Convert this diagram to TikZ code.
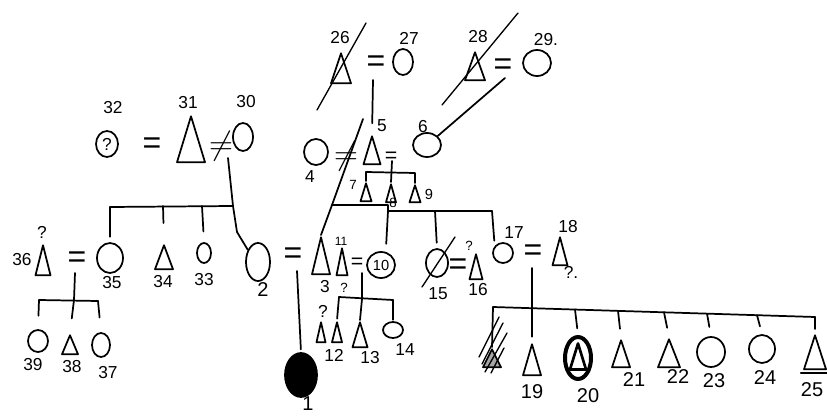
\documentclass[tikz,border=0pt]{standalone}
\usepackage{fontspec}
\setmainfont{Liberation Sans}
\usetikzlibrary{shapes.geometric,calc}
\begin{document}
\begin{tikzpicture}[x=0.75pt,y=-0.75pt, line width=1.3pt, line cap=round, line join=round,
 tri/.style 2 args={draw, isosceles triangle, shape border rotate=90, isosceles triangle stretches, inner sep=0pt, minimum width=#1*0.75pt, minimum height=#2*0.75pt, anchor=apex},
 circ/.style 2 args={draw, ellipse, inner sep=0pt, minimum width=#1*1.5pt, minimum height=#2*1.5pt},
 lab/.style={font=\fontsize{13}{13}\selectfont, inner sep=0pt},
 biglab/.style={font=\fontsize{15}{15}\selectfont, inner sep=0pt},
 eq/.style={font=\fontsize{24}{24}\selectfont, inner sep=0pt},
 seq/.style={font=\fontsize{16}{16}\selectfont, inner sep=0pt},
 slash/.style={line width=1pt}]
\useasboundingbox[fill=white] (0,0) rectangle (827,417);

% ---- generation 0 ----
\node[tri={20}{30}] (t26) at (341,51) {};
\node[eq] (e2627) at (376,64) {=};
\node[circ={10}{13}] (c27) at (403,62) {};
\node[tri={20}{28}] (t28) at (475,50) {};
\node[eq] (e2829) at (503,67) {=};
\node[circ={14}{13}] (c29) at (537,63) {};
\node[lab] (l26) at (340,38) {26};
\node[lab] (l27) at (409,38) {27};
\node[lab] (l28) at (478,37) {28};
\node[lab] (l29) at (546,40) {29.};
\draw[slash] (317,110) -- (366,23);
\draw[slash] (442,105) -- (518,13);

% ---- 32 = 31 != 30 ----
\node[circ={11}{13}, font=\fontsize{13}{13}\selectfont] (c32) at (107,144) {?};
\node[eq] (e3231) at (152,146) {=};
\node[tri={28}{46}] (t31) at (191,114) {};
\node[eq] (n3130) at (221,146) {$\neq$};
\node[circ={10}{14}] (c30) at (243,137) {};
\node[lab] (l32) at (113,108) {32};
\node[lab] (l31) at (188,103) {31};
\node[lab] (l30) at (246,102) {30};

% ---- 4 != 5 = 6 ----
\node[circ={12}{13}] (c4) at (316,152) {};
\node[eq] (n45) at (346,156) {$\neq$};
\node[tri={17}{28}] (t5) at (372,134) {};
\node[seq] (e56) at (391,157) {=};
\node[circ={14}{12}] (c6) at (427,145) {};
\node[lab] (l4) at (310,177) {4};
\node[lab] (l5) at (382,126) {5};
\node[lab] (l6) at (423,127) {6};

\node[tri={11}{18}] (t7) at (366,181) {};
\node[tri={10}{18}] (t8) at (391,182) {};
\node[tri={11}{17}] (t9) at (415,183) {};
\node[lab, font=\fontsize{10}{10}\selectfont] (l7) at (353,185) {7};
\node[lab, font=\fontsize{10}{10}\selectfont] (l8) at (393,203) {8};
\node[lab, font=\fontsize{11}{11}\selectfont] (l9) at (429,194) {9};

% ---- generation 2 ----
\node[circ={13}{15}] (c35) at (110,258) {};
\node[tri={18}{24}] (t34) at (164,243) {};
\node[circ={7}{10}] (c33) at (204,253) {};
\node[circ={12}{19}] (c2) at (258,262) {};
\node[tri={15}{30}] (t36) at (43,243) {};
\node[eq] (e3635) at (77,260) {=};
\node[lab] (l35) at (112,283) {35};
\node[lab] (l34) at (163,282) {34};
\node[lab] (l33) at (204,280) {33};
\node[biglab] (l2) at (263,290) {2};
\node[lab] (l36) at (22,260) {36};
\node[lab] (q36) at (42,232) {?};

\node[eq] (e23) at (293,256) {=};
\node[tri={18}{37}] (t3) at (321,235) {};
\node[tri={11}{27}] (t11) at (342,246) {};
\node[seq] (e1110) at (357,263) {=};
\node[circ={14}{13}, font=\fontsize{11}{11}\selectfont] (c10) at (381,265) {10};
\node[lab] (l3) at (325,287) {3};
\node[lab, font=\fontsize{9}{9}\selectfont] (l11) at (341,241) {11};
\node[lab, font=\fontsize{10}{10}\selectfont] (q11) at (344,288) {?};

\node[circ={11}{14}] (c15) at (437,263) {};
\draw[slash] (422,287) -- (455,237);
\node[eq] (e1516) at (458,267) {=};
\node[tri={13}{25}] (t16) at (476,252) {};
\node[lab] (l15) at (438,294) {15};
\node[lab] (l16) at (478,290) {16};
\node[lab, font=\fontsize{10}{10}\selectfont] (q16) at (469,246) {?};

\node[circ={10}{10}] (c17) at (503,253) {};
\node[eq] (e1718) at (533,253) {=};
\node[tri={15}{28}] (t18) at (560,235) {};
\node[lab] (l17) at (514,233) {17};
\node[lab] (l18) at (568,227) {18};
\node[lab] (q18) at (571,272) {?.};

% ---- generation 3 ----
\node[circ={10}{11}] (c39) at (38,341) {};
\node[tri={16}{19}] (t38) at (70,333) {};
\node[circ={9}{12}] (c37) at (101,345) {};
\node[lab] (l39) at (33,365) {39};
\node[lab] (l38) at (72,367) {38};
\node[lab] (l37) at (108,373) {37};

\node[circ={16}{22}, fill=black] (c1) at (301,375) {};
\node[biglab] (l1) at (308,404) {1};

\node[tri={9}{20}] (t12a) at (321,320) {};
\node[tri={10}{20}] (t12b) at (337,320) {};
\node[tri={15}{25}] (t13) at (360,320) {};
\node[circ={10}{8}] (c14) at (393,330) {};
\node[lab] (l12) at (334,355) {12};
\node[lab] (q12) at (323,311) {?};
\node[lab] (l13) at (370,358) {13};
\node[lab] (l14) at (405,350) {14};

\node[tri={18}{18}, fill=black!35] (th) at (492,347) {};
\draw[line width=1pt] (479,357) -- (499,317) (482,364) -- (503,323) (485,372) -- (507,333) (491,373) -- (504,348);
\node[tri={18}{31}] (t19) at (532,342) {};
\node[circ={13}{21}, line width=3pt] (c20) at (578,358) {};
\node[tri={16}{26}, line width=2pt] (t20) at (578,340) {};
\node[tri={18}{27}] (t21) at (621,338) {};
\node[tri={22}{28}] (t22) at (669,337) {};
\node[circ={14}{15}] (c23) at (711,352) {};
\node[circ={13}{14}] (c24) at (762,349) {};
\node[tri={22}{34}] (t25) at (815,333) {};
\draw ($(t25.left corner)+(-2,3)$) -- ($(t25.right corner)+(2,3)$);
\node[biglab] (l19) at (532,392) {19};
\node[biglab] (l20) at (588,396) {20};
\node[biglab] (l21) at (634,380) {21};
\node[biglab] (l22) at (678,377) {22};
\node[biglab] (l23) at (714,381) {23};
\node[biglab] (l24) at (765,378) {24};
\node[biglab] (l25) at (812,390) {25};

% ---- connectors ----
\coordinate (d2627) at (373,80);
\draw[shorten >=8pt] (d2627) -- (t5.apex);
\coordinate (d2829) at (505,78);
\draw (d2829) -- (c6.40);

\coordinate (x5) at (363,119);
\coordinate (sb1) at (332,205);
\coordinate (sb2) at (388,205);
\coordinate (sb3) at (388,211);
\coordinate (sb15) at (435,211);
\coordinate (sb4) at (492,211);
\draw (x5) -- (sb1) -- (t3.apex);
\draw (sb1) -- (sb2) -- (sb3) -- (sb4);
\draw[shorten >=6pt] (sb3) -- (c10.70);
\draw[shorten >=4pt] (sb15) -- (c15.north);
\draw[shorten >=4pt] (sb4) -- (c17.140);

\coordinate (d56) at (392,161);
\coordinate (k7) at (366,172);
\coordinate (k9) at (415,173);
\draw (d56) -- (t8.apex);
\draw (t7.apex) -- (k7) -- (k9) -- (t9.apex);

\coordinate (d3130) at (228,158);
\coordinate (s30) at (233,206);
\coordinate (k2) at (237,232);
\coordinate (s35) at (110,207);
\coordinate (s34) at (163,206);
\coordinate (s33) at (202,206);
\draw (d3130) -- (s30) -- (k2) -- (c2.130);
\draw (s30) -- (s35);
\draw[shorten >=4pt] (s35) -- (c35.north);
\draw[shorten >=15pt] (s34) -- (t34.apex);
\draw[shorten >=8pt] (s33) -- (c33.north);

\coordinate (d3635) at (75,273);
\coordinate (b3635) at (74,300);
\coordinate (b39) at (39,300);
\coordinate (b37) at (98,301);
\draw (d3635) -- (b3635);
\draw (b39) -- (b37);
\draw[shorten >=10pt] (b39) -- (c39.north);
\draw[shorten >=11pt] (b3635) -- (t38.apex);
\draw[shorten >=11pt] (b37) -- (c37.north);

\coordinate (d23) at (297,271);
\draw[shorten >=2pt] (d23) -- (c1.north);

\coordinate (d1110) at (362,273);
\coordinate (b1110) at (362,299);
\coordinate (b12) at (339,297);
\coordinate (b14) at (393,300);
\draw (d1110) -- (b1110) -- (t13.apex);
\draw (b12) -- (b14);
\draw[shorten >=1pt] (b12) -- (t12b.apex);
\draw[shorten >=1pt] (b14) -- (c14.north);

\coordinate (d1718) at (532,268);
\draw[shorten >=4pt] (d1718) -- (t19.apex);
\coordinate (bL) at (493,307);
\coordinate (bR) at (815,317);
\draw (bL) -- (bR);
\draw (bL) -- (th.apex);
\coordinate (k20) at (575,309.5);
\coordinate (k21) at (618,310.9);
\coordinate (k22) at (664,312.3);
\coordinate (k23) at (707,313.6);
\coordinate (k24) at (757,315.1);
\draw[shorten >=5pt] (k20) -- (c20.north);
\draw[shorten >=7pt] (k21) -- (t21.apex);
\draw[shorten >=7pt] (k22) -- (t22.apex);
\draw[shorten >=7pt] (k23) -- (c23.north);
\draw[shorten >=6pt] (k24) -- (c24.north);
\draw[shorten >=3pt] (bR) -- (t25.apex);
\end{tikzpicture}
\end{document}
